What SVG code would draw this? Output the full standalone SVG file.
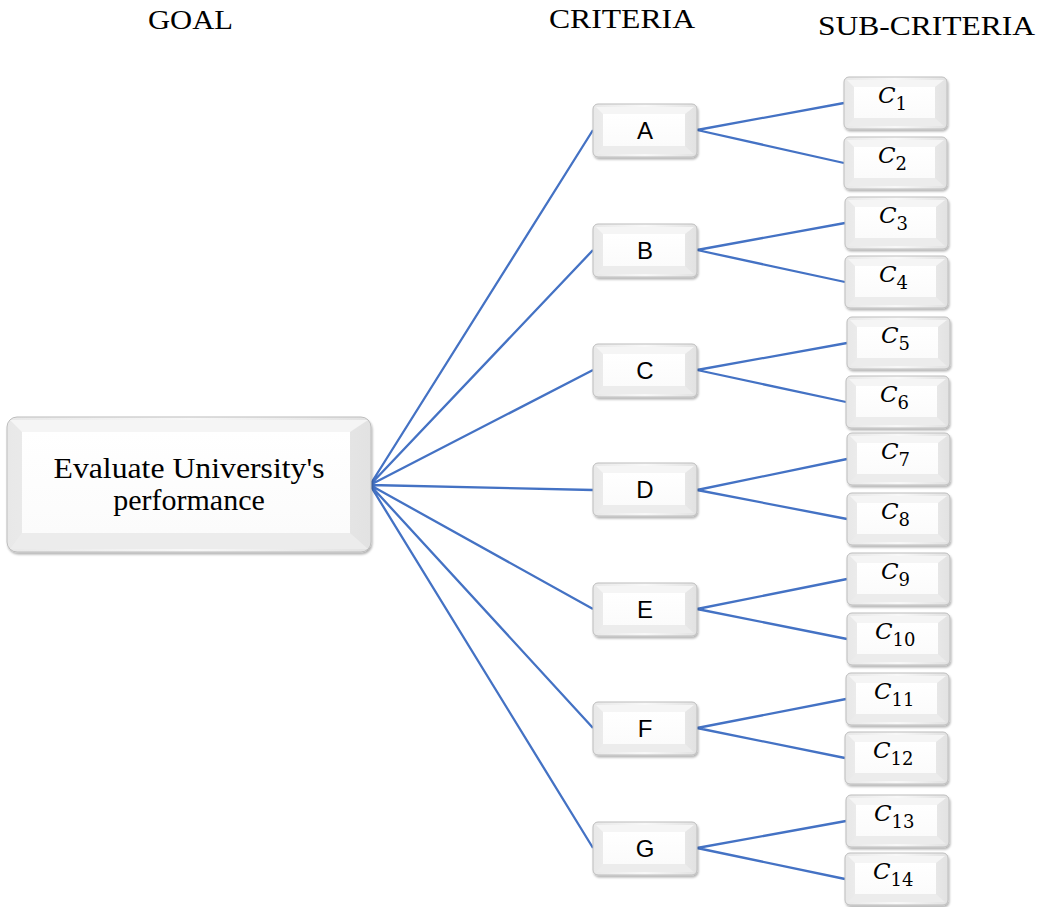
<svg xmlns="http://www.w3.org/2000/svg" width="1037" height="907" viewBox="0 0 1037 907">
<defs>
<linearGradient id="side" x1="0" y1="0" x2="1" y2="0">
<stop offset="0" stop-color="#e8e8e8"/><stop offset="0.5" stop-color="#f8f8f8"/><stop offset="1" stop-color="#e2e2e2"/>
</linearGradient>
<linearGradient id="face" x1="0" y1="0" x2="0" y2="1">
<stop offset="0" stop-color="#ffffff"/><stop offset="1" stop-color="#fbfbfb"/>
</linearGradient>
<filter id="sh" x="-10%" y="-10%" width="120%" height="130%">
<feDropShadow dx="1" dy="2" stdDeviation="1.2" flood-color="#000" flood-opacity="0.3"/>
</filter>
<g id="cbox">
<rect x="0" y="0" width="104" height="53" rx="5" fill="url(#side)" stroke="#bdbdbd" stroke-width="1" filter="url(#sh)"/>
<path d="M3 3 L101 3 L92 10 L10 10 Z" fill="#f5f5f5"/>
<path d="M3 50 L101 50 L92 42 L10 42 Z" fill="#ececec"/>
<rect x="10" y="10" width="82" height="32" fill="url(#face)"/>
</g>
<g id="sbox">
<rect x="0" y="0" width="103" height="52" rx="5" fill="url(#side)" stroke="#bdbdbd" stroke-width="1" filter="url(#sh)"/>
<path d="M3 3 L100 3 L91 10 L10 10 Z" fill="#f5f5f5"/>
<path d="M3 49 L100 49 L91 41 L10 41 Z" fill="#ececec"/>
<rect x="10" y="10" width="81" height="31" fill="url(#face)"/>
</g>
</defs>
<style>
.hdr{font-family:"Liberation Serif","Times New Roman",serif;font-size:28px;fill:#000}
.gt{font-family:"Liberation Serif","Times New Roman",serif;font-size:30px;fill:#000;text-anchor:middle}
.ct{font-family:"Liberation Sans",Arial,sans-serif;font-size:24px;fill:#000;text-anchor:middle}
.st{font-family:"DejaVu Serif","Liberation Serif",serif;font-style:italic;font-size:23px;fill:#000}
.sub{font-family:"DejaVu Serif","Liberation Serif",serif;font-style:normal;font-size:18px}
.ln{stroke:#4472C4;stroke-width:2.3;fill:none}
</style>
<rect width="1037" height="907" fill="#fff"/>
<g id="headers">
<text class="hdr" x="148" y="29" textLength="85" lengthAdjust="spacingAndGlyphs">GOAL</text>
<text class="hdr" x="549" y="28" textLength="146" lengthAdjust="spacingAndGlyphs">CRITERIA</text>
<text class="hdr" x="818" y="35" textLength="217" lengthAdjust="spacingAndGlyphs">SUB-CRITERIA</text>
</g>
<g id="connectors">
<path class="ln" d="M370 485 L593 130 M370 485 L593 250 M370 485 L593 370 M370 485 L593 490 M370 485 L593 609 M370 485 L593 728 M370 485 L593 848"/>
<path class="ln" d="M697 130 L844 103 M697 130 L844 163"/>
<path class="ln" d="M697 250 L845 223 M697 250 L845 282"/>
<path class="ln" d="M697 370 L847 343 M697 370 L846 402"/>
<path class="ln" d="M697 490 L847 459 M697 490 L847 519"/>
<path class="ln" d="M697 609 L847 579 M697 609 L847 639"/>
<path class="ln" d="M697 728 L846 699 M697 728 L845 758"/>
<path class="ln" d="M697 848 L846 821 M697 848 L845 879"/>
</g>
<g id="goal">
<rect x="7" y="417" width="364" height="135" rx="10" fill="url(#side)" stroke="#bdbdbd" filter="url(#sh)"/>
<path d="M10 420 L368 420 L350 432 L22 432 Z" fill="#f5f5f5"/>
<path d="M10 549 L368 549 L350 533 L22 533 Z" fill="#ececec"/>
<rect x="22" y="432" width="328" height="101" fill="url(#face)"/>
<text class="gt" x="189" y="478" textLength="271" lengthAdjust="spacingAndGlyphs">Evaluate University's</text>
<text class="gt" x="189" y="510">performance</text>
</g>
<g id="A"><use href="#cbox" x="593" y="104"/><text class="ct" x="645" y="139">A</text></g>
<g id="B"><use href="#cbox" x="593" y="224"/><text class="ct" x="645" y="259">B</text></g>
<g id="C"><use href="#cbox" x="593" y="344"/><text class="ct" x="645" y="379">C</text></g>
<g id="D"><use href="#cbox" x="593" y="463"/><text class="ct" x="645" y="498">D</text></g>
<g id="E"><use href="#cbox" x="593" y="583"/><text class="ct" x="645" y="618">E</text></g>
<g id="F"><use href="#cbox" x="593" y="702"/><text class="ct" x="645" y="737">F</text></g>
<g id="G"><use href="#cbox" x="593" y="822"/><text class="ct" x="645" y="857">G</text></g>
<g id="C1"><use href="#sbox" x="844" y="77"/><text class="st" x="878" y="103">C<tspan class="sub" dy="7">1</tspan></text></g>
<g id="C2"><use href="#sbox" x="844" y="137"/><text class="st" x="878" y="163">C<tspan class="sub" dy="7">2</tspan></text></g>
<g id="C3"><use href="#sbox" x="845" y="197"/><text class="st" x="879" y="223">C<tspan class="sub" dy="7">3</tspan></text></g>
<g id="C4"><use href="#sbox" x="845" y="256"/><text class="st" x="879" y="282">C<tspan class="sub" dy="7">4</tspan></text></g>
<g id="C5"><use href="#sbox" x="847" y="317"/><text class="st" x="881" y="343">C<tspan class="sub" dy="7">5</tspan></text></g>
<g id="C6"><use href="#sbox" x="846" y="376"/><text class="st" x="880" y="402">C<tspan class="sub" dy="7">6</tspan></text></g>
<g id="C7"><use href="#sbox" x="847" y="433"/><text class="st" x="881" y="459">C<tspan class="sub" dy="7">7</tspan></text></g>
<g id="C8"><use href="#sbox" x="847" y="493"/><text class="st" x="881" y="519">C<tspan class="sub" dy="7">8</tspan></text></g>
<g id="C9"><use href="#sbox" x="847" y="553"/><text class="st" x="881" y="579">C<tspan class="sub" dy="7">9</tspan></text></g>
<g id="C10"><use href="#sbox" x="847" y="613"/><text class="st" x="875" y="639">C<tspan class="sub" dy="7">10</tspan></text></g>
<g id="C11"><use href="#sbox" x="846" y="673"/><text class="st" x="874" y="699">C<tspan class="sub" dy="7">11</tspan></text></g>
<g id="C12"><use href="#sbox" x="845" y="732"/><text class="st" x="873" y="758">C<tspan class="sub" dy="7">12</tspan></text></g>
<g id="C13"><use href="#sbox" x="846" y="795"/><text class="st" x="874" y="821">C<tspan class="sub" dy="7">13</tspan></text></g>
<g id="C14"><use href="#sbox" x="845" y="853"/><text class="st" x="873" y="879">C<tspan class="sub" dy="7">14</tspan></text></g>
</svg>
